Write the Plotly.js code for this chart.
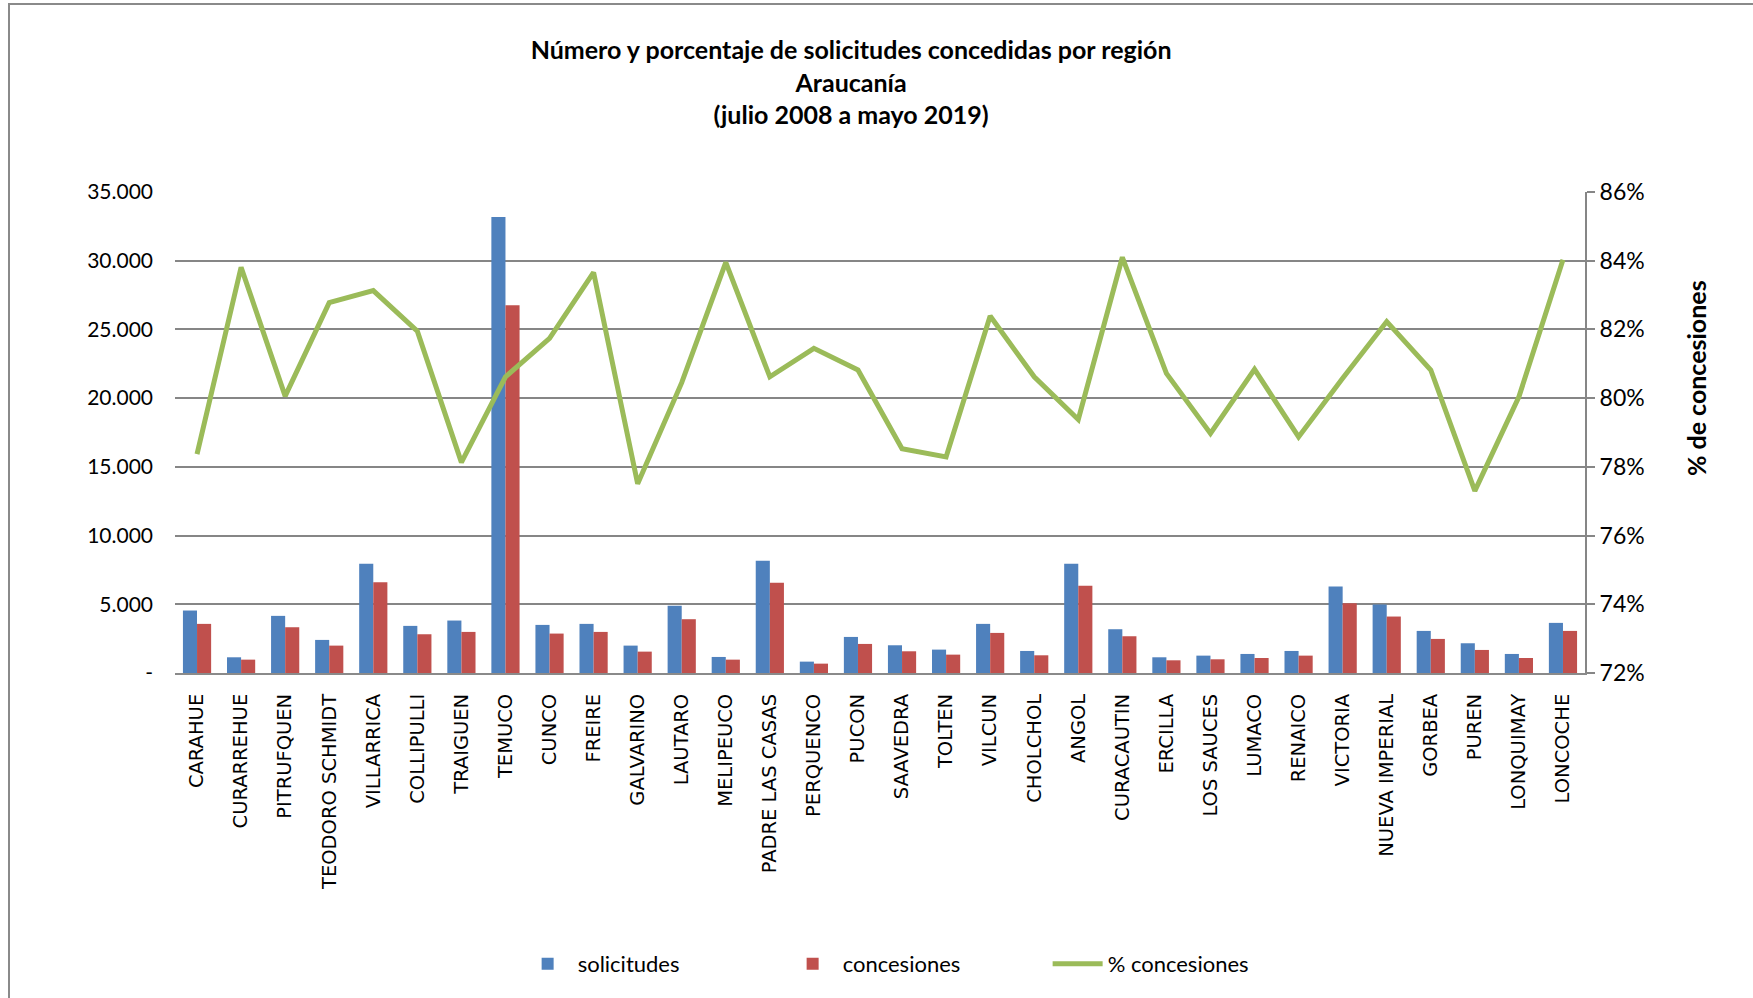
<!DOCTYPE html>
<html>
<head>
<meta charset="utf-8">
<script src="https://cdn.plot.ly/plotly-3.0.1.min.js"></script>
<style>
  html, body { margin: 0; padding: 0; background: #ffffff; overflow: hidden; }
  #chart { position: absolute; left: 0; top: 0; width: 1753px; height: 998px; }
  #frame { position: absolute; left: 8px; top: 3px; width: 1800px; height: 1100px;
           border: 2px solid #8a8a8a; pointer-events: none; }
</style>
</head>
<body>
<div id="chart"></div>
<div id="frame"></div>
<script>
const comunas = ["CARAHUE","CURARREHUE","PITRUFQUEN","TEODORO SCHMIDT","VILLARRICA","COLLIPULLI","TRAIGUEN","TEMUCO","CUNCO","FREIRE","GALVARINO","LAUTARO","MELIPEUCO","PADRE LAS CASAS","PERQUENCO","PUCON","SAAVEDRA","TOLTEN","VILCUN","CHOLCHOL","ANGOL","CURACAUTIN","ERCILLA","LOS SAUCES","LUMACO","RENAICO","VICTORIA","NUEVA IMPERIAL","GORBEA","PUREN","LONQUIMAY","LONCOCHE"];

const solicitudes = [4546,1143,4157,2407,7950,3428,3817,33183,3500,3574,1993,4886,1167,8168,827,2625,2018,1702,3574,1604,7950,3185,1143,1264,1386,1604,6296,4984,3063,2164,1386,3647];

const concesiones = [3574,972,3330,1993,6612,2820,2990,26765,2869,2990,1556,3914,972,6564,681,2115,1580,1337,2917,1288,6345,2674,924,997,1094,1264,5081,4108,2480,1677,1094,3063];

const pctConcesiones = [0.7837,0.8381,0.8006,0.8278,0.8313,0.8195,0.7813,0.8062,0.8174,0.8366,0.7751,0.8045,0.8395,0.8062,0.8145,0.8082,0.7853,0.7829,0.8239,0.8062,0.7938,0.8410,0.8072,0.7897,0.8084,0.7887,0.8058,0.8223,0.8082,0.7730,0.8004,0.8403];

const leftTickVals = [0,5000,10000,15000,20000,25000,30000,35000];
const leftTickText = ["-","5.000","10.000","15.000","20.000","25.000","30.000","35.000"];
const rightTickVals = [0.72,0.74,0.76,0.78,0.80,0.82,0.84,0.86];
const rightTickText = ["72%","74%","76%","78%","80%","82%","84%","86%"];
const rightAxisTitle = "% de concesiones";

const FONT = "Lato, 'Open Sans', sans-serif";
const LABELFONT = "'DejaVu Sans', Verdana, sans-serif";

const traces = [
  { type: "bar", name: "solicitudes", x: comunas, y: solicitudes,
    marker: { color: "#4F81BD" }, yaxis: "y" },
  { type: "bar", name: "concesiones", x: comunas, y: concesiones,
    marker: { color: "#C0504D" }, yaxis: "y" },
  { type: "scatter", mode: "lines", name: "% concesiones", x: comunas, y: pctConcesiones,
    line: { color: "#9BBB59", width: 5 }, yaxis: "y2" }
];

const layout = {
  width: 1753, height: 998,
  paper_bgcolor: "#ffffff", plot_bgcolor: "#ffffff",
  margin: { l: 175, r: 168, t: 192, b: 325 },
  showlegend: true,
  barmode: "group",
  bargap: 0.36,
  bargroupgap: 0,
  font: { family: FONT, color: "#000000" },
  title: {
    text: "<b>Número y porcentaje de solicitudes concedidas por región<br>Araucanía<br>(julio 2008 a mayo 2019)</b>",
    font: { family: FONT, size: 25, color: "#000000" },
    xref: "container", x: 0.4855, xanchor: "center",
    yref: "container", y: 0.9405, yanchor: "middle"
  },
  xaxis: {
    type: "category",
    tickangle: -90,
    tickfont: { family: LABELFONT, size: 19.5, color: "#000000" },
    showgrid: false,
    showline: true, linecolor: "#8a8a8a", linewidth: 2,
    ticks: "", ticklabelstandoff: 11,
    zeroline: false
  },
  yaxis: {
    range: [0, 35000],
    tickvals: leftTickVals, ticktext: leftTickText,
    tickfont: { family: FONT, size: 21, color: "#000000" },
    showgrid: true, gridcolor: "#868686", gridwidth: 2,
    showline: false, zeroline: false, ticks: "",
    ticklabelstandoff: 21
  },
  yaxis2: {
    overlaying: "y", side: "right",
    range: [0.72, 0.86],
    tickvals: rightTickVals, ticktext: rightTickText,
    tickfont: { family: FONT, size: 23, color: "#000000" },
    showgrid: false, zeroline: false,
    showline: true, linecolor: "#868686", linewidth: 2,
    ticks: "outside", ticklen: 8, tickcolor: "#868686", tickwidth: 2
  },
  annotations: [
    { text: "<b>" + rightAxisTitle + "</b>", textangle: -90,
      xref: "paper", yref: "paper", x: 1.0787, y: 0.613,
      xanchor: "center", yanchor: "middle", showarrow: false,
      font: { family: FONT, size: 25, color: "#000000" } }
  ],
  legend: {
    orientation: "h",
    x: 0.243, xanchor: "left", xref: "paper",
    y: -0.605, yanchor: "middle",
    font: { family: FONT, size: 22, color: "#000000" },
    entrywidth: 200, itemwidth: 50,
    traceorder: "normal"
  }
};

Plotly.newPlot("chart", traces, layout, { staticPlot: true, displayModeBar: false });
</script>
</body>
</html>
